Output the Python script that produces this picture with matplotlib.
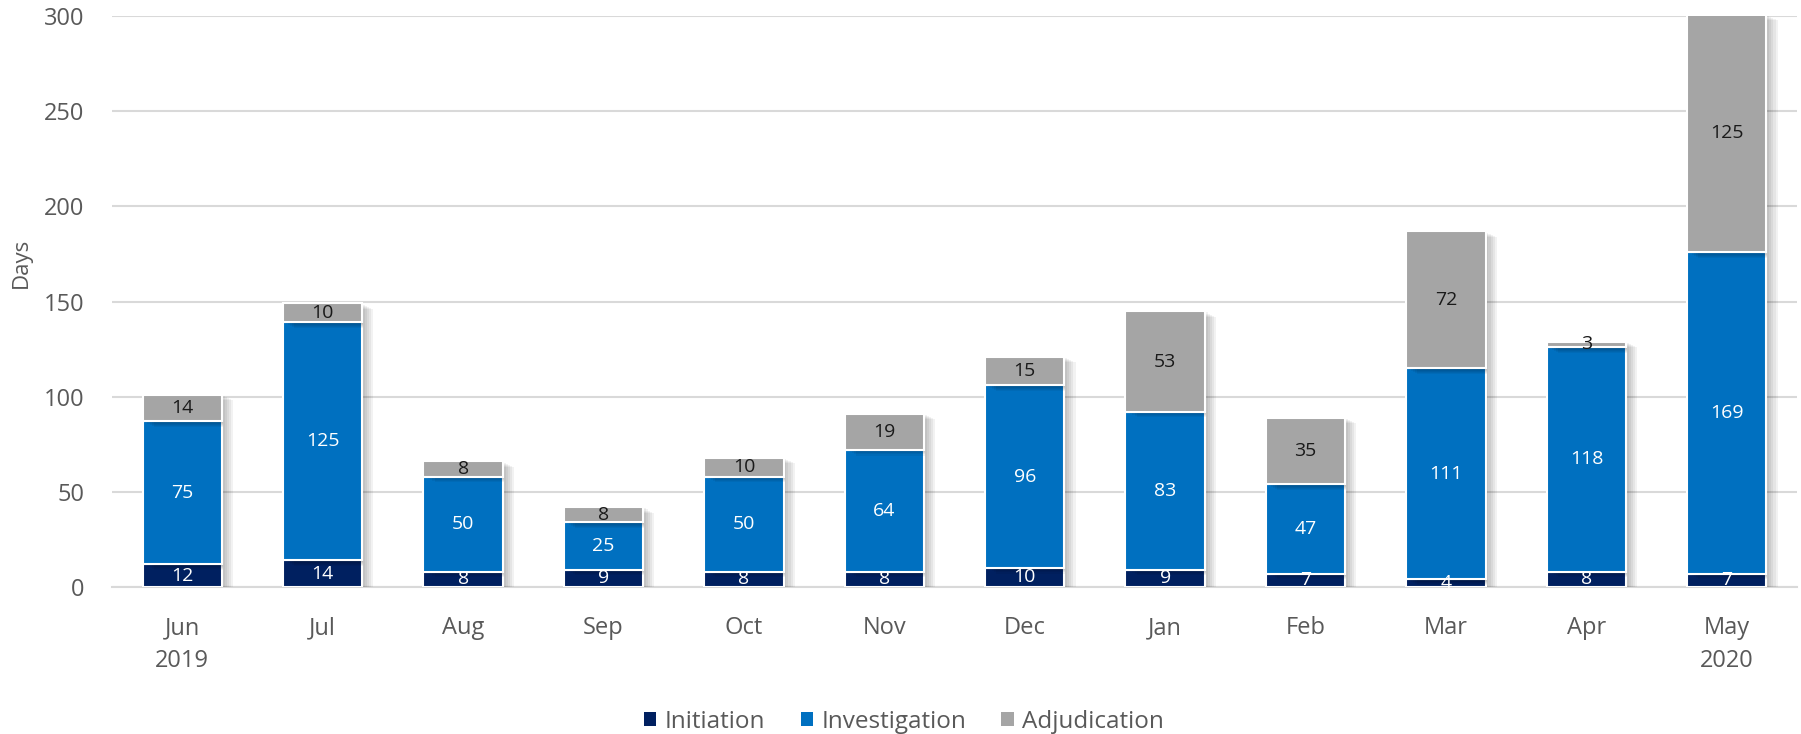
import matplotlib
matplotlib.use("Agg")
import matplotlib.pyplot as plt
import matplotlib.patheffects as pe
from matplotlib.patches import Patch
import numpy as np

months = ["Jun\n2019", "Jul", "Aug", "Sep", "Oct", "Nov", "Dec",
          "Jan", "Feb", "Mar", "Apr", "May\n2020"]
initiation    = [12, 14, 8, 9, 8, 8, 10, 9, 7, 4, 8, 7]
investigation = [75, 125, 50, 25, 50, 64, 96, 83, 47, 111, 118, 169]
adjudication  = [14, 10, 8, 8, 10, 19, 15, 53, 35, 72, 3, 125]

series = [("Initiation", initiation, "#002060", "white"),
          ("Investigation", investigation, "#0070C0", "white"),
          ("Adjudication", adjudication, "#A5A5A5", "#1a1a1a")]

plt.rcParams["font.family"] = ["Open Sans", "DejaVu Sans"]
TXT = "#595959"

fig = plt.figure(figsize=(18.01, 7.34), dpi=100)
ax = fig.add_axes([0.0622, 0.2003, 0.9356, 0.7777])

x = np.arange(len(months))
width = 0.565
# soft drop shadow to the right / below, built from a few faint layers
shadow = [pe.SimplePatchShadow(offset=(o, -o * 0.5), shadow_rgbFace="#000000", alpha=0.05)
          for o in (8, 6.5, 5, 3.5, 2)] + [pe.Normal()]

bottom = np.zeros(len(months))
for name, vals, col, tcol in series:
    vals = np.array(vals, dtype=float)
    bars = ax.bar(x, vals, width, bottom=bottom, color=col, edgecolor="white",
                  linewidth=1.5, zorder=3)
    for b in bars:
        b.set_path_effects(shadow)
    for xi, v, b0 in zip(x, vals, bottom):
        yc = b0 + v / 2
        if yc < 300:
            ax.text(xi, yc, f"{int(v)}", ha="center", va="center",
                    fontsize=14, color=tcol, zorder=5)
    bottom += vals

ax.set_ylim(0, 300)
ax.set_xlim(-0.5, len(months) - 0.5)
ax.set_yticks(range(0, 301, 50))
ax.set_xticks(x)
ax.set_xticklabels(months, linespacing=1.5)
ax.tick_params(axis="both", length=0, labelsize=17, colors=TXT)
ax.tick_params(axis="x", pad=21)
ax.tick_params(axis="y", pad=20)
ax.yaxis.grid(True, color="#D9D9D9", linewidth=1.5, zorder=0)
for s in ["top", "right", "left"]:
    ax.spines[s].set_visible(False)
ax.spines["bottom"].set_color("#D9D9D9")
ax.spines["bottom"].set_linewidth(1.5)

fig.text(0.012, 0.642, "Days", rotation=90, ha="center", va="center",
         fontsize=16, color=TXT)

handles = [Patch(facecolor=c, edgecolor="none", label=n) for n, _, c, _ in series]
fig.legend(handles=handles, loc="center", bbox_to_anchor=(0.502, 0.017), ncol=3,
           frameon=False, fontsize=17.5, handlelength=0.5, handleheight=0.5,
           handletextpad=0.35, columnspacing=1.45, labelcolor=TXT)

fig.savefig("out.png", dpi=100)
